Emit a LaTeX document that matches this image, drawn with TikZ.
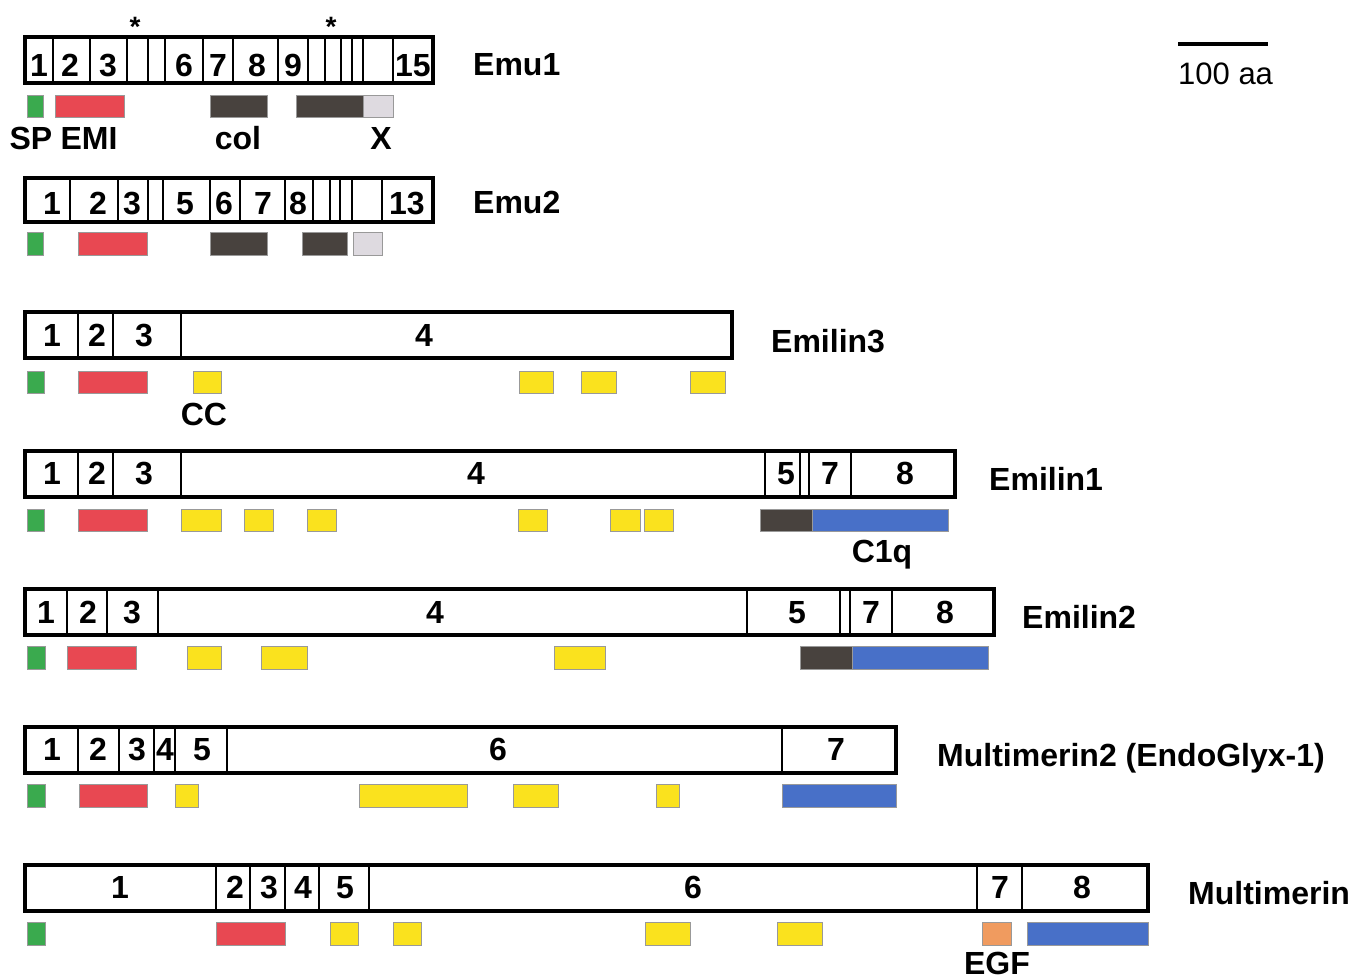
\documentclass[tikz,border=0pt]{standalone}
\usepackage{fontspec}
\setmainfont{Liberation Sans}
\definecolor{spgreen}{RGB}{58,170,78}
\definecolor{emired}{RGB}{232,72,82}
\definecolor{coldark}{RGB}{72,66,62}
\definecolor{xlight}{RGB}{222,218,224}
\definecolor{ccyellow}{RGB}{250,226,30}
\definecolor{cblue}{RGB}{72,112,200}
\definecolor{egforange}{RGB}{240,155,95}
\begin{document}
\begin{tikzpicture}[x=1pt,y=-1pt,
  outer/.style={draw=black, line width=3.2pt},
  divider/.style={draw=black, line width=2.1pt},
  num/.style={anchor=base, inner sep=0pt, font=\fontsize{32}{36}\selectfont\bfseries},
  lbl/.style={anchor=base west, inner sep=0pt, font=\fontsize{32}{38}\selectfont\bfseries},
  dlbl/.style={anchor=base, inner sep=0pt, font=\fontsize{32}{38}\selectfont\bfseries},
  bar/.style={draw=black!40, line width=0.5pt}]
\useasboundingbox[fill=white] (0,0) rectangle (1353,980);

% ---------------- Emu1 ----------------
\foreach \x in {53,90,127,148,165,203,233,278,308,325,341,352,363,393}
  \draw[divider] (\x,37) -- (\x,83);
\draw[outer] (25,37) rectangle (433,83);
\foreach \t/\x [count=\i] in {1/39,2/70,3/108,6/184,7/218,8/257,9/293,15/413}
  \node[num] (emua\i) at (\x,76) {\t};
\node[num, font=\fontsize{28}{30}\selectfont\bfseries] (asta) at (135,36) {*};
\node[num, font=\fontsize{28}{30}\selectfont\bfseries] (astb) at (331,36) {*};
\node[lbl] (emu1) at (473,75) {Emu1};
\fill[spgreen, bar] (27,95) rectangle (43,117);
\fill[emired, bar] (55,95) rectangle (124,117);
\fill[coldark, bar] (210,95) rectangle (267,117);
\fill[coldark, bar] (296,95) rectangle (363,117);
\fill[xlight, bar] (363,95) rectangle (393,117);
\node[dlbl] (sp) at (31,149) {SP};
\node[dlbl] (emi) at (89,149) {EMI};
\node[dlbl] (col) at (238,149) {col};
\node[dlbl] (xd) at (381,149) {X};

% ---------------- Emu2 ----------------
\foreach \x in {70,118,148,163,210,240,285,313,330,340,352,382}
  \draw[divider] (\x,178) -- (\x,222);
\draw[outer] (25,178) rectangle (433,222);
\foreach \t/\x [count=\i] in {1/52,2/98,3/132,5/185,6/224,7/263,8/298,13/407}
  \node[num] (emub\i) at (\x,214) {\t};
\node[lbl] (emu2) at (473,213) {Emu2};
\fill[spgreen, bar] (27,232) rectangle (43,255);
\fill[emired, bar] (78,232) rectangle (147,255);
\fill[coldark, bar] (210,232) rectangle (267,255);
\fill[coldark, bar] (302,232) rectangle (347,255);
\fill[xlight, bar] (353,232) rectangle (382,255);

% ---------------- Emilin3 ----------------
\foreach \x in {78,113,181}
  \draw[divider] (\x,312) -- (\x,358);
\draw[outer] (25,312) rectangle (732,358);
\foreach \t/\x [count=\i] in {1/52,2/97,3/144,4/424}
  \node[num] (emc\i) at (\x,346) {\t};
\node[lbl] (emilin3) at (771,352) {Emilin3};
\fill[spgreen, bar] (27,371) rectangle (44,393);
\fill[emired, bar] (78,371) rectangle (147,393);
\foreach \a/\b in {193/221,519/553,581/616,690/725}
  \fill[ccyellow, bar] (\a,371) rectangle (\b,393);
\node[dlbl] (cc) at (204,425) {CC};

% ---------------- Emilin1 ----------------
\foreach \x in {78,113,181,765,800,809,851}
  \draw[divider] (\x,451) -- (\x,497);
\draw[outer] (25,451) rectangle (955,497);
\foreach \t/\x [count=\i] in {1/52,2/97,3/144,4/476,5/786,7/830,8/905}
  \node[num] (emd\i) at (\x,484) {\t};
\node[lbl] (emilin1) at (989,490) {Emilin1};
\fill[spgreen, bar] (27,509) rectangle (44,531);
\fill[emired, bar] (78,509) rectangle (147,531);
\foreach \a/\b in {181/221,244/273,307/336,518/547,610/640,644/673}
  \fill[ccyellow, bar] (\a,509) rectangle (\b,531);
\fill[coldark, bar] (760,509) rectangle (812,531);
\fill[cblue, bar] (812,509) rectangle (948,531);
\node[dlbl] (c1q) at (882,562) {C1q};

% ---------------- Emilin2 ----------------
\foreach \x in {67,107,158,747,840,850,892}
  \draw[divider] (\x,589) -- (\x,635);
\draw[outer] (25,589) rectangle (994,635);
\foreach \t/\x [count=\i] in {1/46,2/88,3/132,4/435,5/797,7/871,8/945}
  \node[num] (eme\i) at (\x,623) {\t};
\node[lbl] (emilin2) at (1022,628) {Emilin2};
\fill[spgreen, bar] (27,646) rectangle (45,669);
\fill[emired, bar] (67,646) rectangle (136,669);
\foreach \a/\b in {187/221,261/307,554/605}
  \fill[ccyellow, bar] (\a,646) rectangle (\b,669);
\fill[coldark, bar] (800,646) rectangle (852,669);
\fill[cblue, bar] (852,646) rectangle (988,669);

% ---------------- Multimerin2 ----------------
\foreach \x in {78,119,154,175,227,782}
  \draw[divider] (\x,727) -- (\x,773);
\draw[outer] (25,727) rectangle (896,773);
\foreach \t/\x [count=\i] in {1/52,2/98,3/137,4/165,5/202,6/498,7/836}
  \node[num] (emf\i) at (\x,760) {\t};
\node[lbl] (mmrn2) at (937,766) {Multimerin2 (EndoGlyx-1)};
\fill[spgreen, bar] (27,784) rectangle (45,807);
\fill[emired, bar] (79,784) rectangle (147,807);
\foreach \a/\b in {175/198,359/467,513/558,656/679}
  \fill[ccyellow, bar] (\a,784) rectangle (\b,807);
\fill[cblue, bar] (782,784) rectangle (896,807);

% ---------------- Multimerin ----------------
\foreach \x in {216,250,285,319,369,977,1022}
  \draw[divider] (\x,865) -- (\x,911);
\draw[outer] (25,865) rectangle (1148,911);
\foreach \t/\x [count=\i] in {1/120,2/235,3/269,4/303,5/345,6/693,7/1000,8/1082}
  \node[num] (emg\i) at (\x,898) {\t};
\node[lbl] (mmrn) at (1188,904) {Multimerin};
\fill[spgreen, bar] (27,922) rectangle (45,945);
\fill[emired, bar] (216,922) rectangle (285,945);
\foreach \a/\b in {330/358,393/421,645/690,777/822}
  \fill[ccyellow, bar] (\a,922) rectangle (\b,945);
\fill[egforange, bar] (982,922) rectangle (1011,945);
\fill[cblue, bar] (1027,922) rectangle (1148,945);
\node[dlbl] (egf) at (997,974) {EGF};

% ---------------- scale bar ----------------
\coordinate (sba) at (1178,44);
\coordinate (sbb) at (1268,44);
\draw[line width=3.5pt] (sba) -- (sbb);
\node[anchor=base west, inner sep=0pt, font=\fontsize{31}{36}\selectfont] (scale) at (1178,84) {100 aa};
\end{tikzpicture}
\end{document}
